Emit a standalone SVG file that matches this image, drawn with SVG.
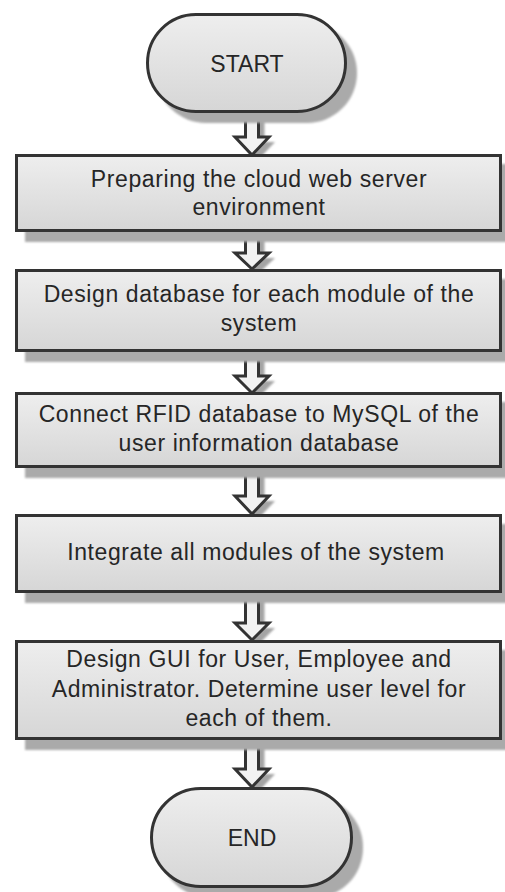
<svg xmlns="http://www.w3.org/2000/svg" width="505" height="892" viewBox="0 0 505 892">
<defs>
<linearGradient id="g" x1="0" y1="0" x2="0" y2="1">
<stop offset="0" stop-color="#eeeeee"/>
<stop offset="1" stop-color="#d6d6d6"/>
</linearGradient>
<filter id="blur" x="-10%" y="-10%" width="120%" height="130%"><feGaussianBlur stdDeviation="0.8"/></filter>
</defs>
<style>
.shape{fill:url(#g);stroke:#333333;stroke-width:3}
.shadow{fill:#aaaaaa;filter:url(#blur)}
.arrow{fill:#f2f2f2;stroke:#333333;stroke-width:3;stroke-linejoin:miter}
.ashadow{fill:#a4a4a4;filter:url(#blur)}
text{font-family:"Liberation Sans",Arial,sans-serif;font-size:23px;fill:#262626;text-anchor:middle}
.bt{letter-spacing:0.6px}
</style>
<rect width="505" height="892" fill="#ffffff"/>

<g id="connectors">
<g transform="translate(6,5)" class="ashadow">
<polygon points="245.5,113 245.5,137 235,137 252,155 269,137 258.5,137 258.5,113"/>
<polygon points="245.5,232 245.5,253 235,253 252,269 269,253 258.5,253 258.5,232"/>
<polygon points="245.5,352 245.5,376 235,376 252,393 269,376 258.5,376 258.5,352"/>
<polygon points="245.5,468 245.5,496 235,496 252,514 269,496 258.5,496 258.5,468"/>
<polygon points="245.5,593 245.5,623 235,623 252,640 269,623 258.5,623 258.5,593"/>
<polygon points="245.5,740 245.5,769 235,769 252,787 269,769 258.5,769 258.5,740"/>
</g>
<polygon class="arrow" points="245.5,113 245.5,137 235,137 252,155 269,137 258.5,137 258.5,113"/>
<polygon class="arrow" points="245.5,232 245.5,253 235,253 252,269 269,253 258.5,253 258.5,232"/>
<polygon class="arrow" points="245.5,352 245.5,376 235,376 252,393 269,376 258.5,376 258.5,352"/>
<polygon class="arrow" points="245.5,468 245.5,496 235,496 252,514 269,496 258.5,496 258.5,468"/>
<polygon class="arrow" points="245.5,593 245.5,623 235,623 252,640 269,623 258.5,623 258.5,593"/>
<polygon class="arrow" points="245.5,740 245.5,769 235,769 252,787 269,769 258.5,769 258.5,740"/>
</g>

<g id="start">
<rect class="shadow" x="156" y="23" width="201" height="100" rx="50"/>
<rect class="shape" x="147.5" y="14.5" width="198" height="97" rx="48.5"/>
<text x="247" y="72">START</text>
</g>

<g id="step1">
<rect class="shadow" x="25" y="164" width="487" height="78"/>
<rect class="shape" x="16.5" y="155.5" width="484" height="75"/>
<text class="bt" x="259" y="187">Preparing the cloud web server</text>
<text class="bt" x="259" y="215">environment</text>
</g>

<g id="step2">
<rect class="shadow" x="25" y="279" width="487" height="83"/>
<rect class="shape" x="16.5" y="270.5" width="484" height="80"/>
<text class="bt" x="259" y="302">Design database for each module of the</text>
<text class="bt" x="259" y="331">system</text>
</g>

<g id="step3">
<rect class="shadow" x="25" y="402" width="487" height="76"/>
<rect class="shape" x="16.5" y="393.5" width="484" height="73"/>
<text class="bt" x="259" y="422">Connect RFID database to MySQL of the</text>
<text class="bt" x="259" y="451">user information database</text>
</g>

<g id="step4">
<rect class="shadow" x="25" y="524" width="487" height="79"/>
<rect class="shape" x="16.5" y="515.5" width="484" height="76"/>
<text class="bt" x="256" y="560">Integrate all modules of the system</text>
</g>

<g id="step5">
<rect class="shadow" x="25" y="650" width="487" height="100"/>
<rect class="shape" x="16.5" y="641.5" width="484" height="97"/>
<text class="bt" x="259" y="667">Design GUI for User, Employee and</text>
<text class="bt" x="259" y="697">Administrator. Determine user level for</text>
<text class="bt" x="259" y="726">each of them.</text>
</g>

<g id="end">
<rect class="shadow" x="160" y="797" width="203" height="101" rx="50"/>
<rect class="shape" x="151.5" y="788.5" width="200" height="98" rx="49"/>
<text x="252" y="846">END</text>
</g>
</svg>
